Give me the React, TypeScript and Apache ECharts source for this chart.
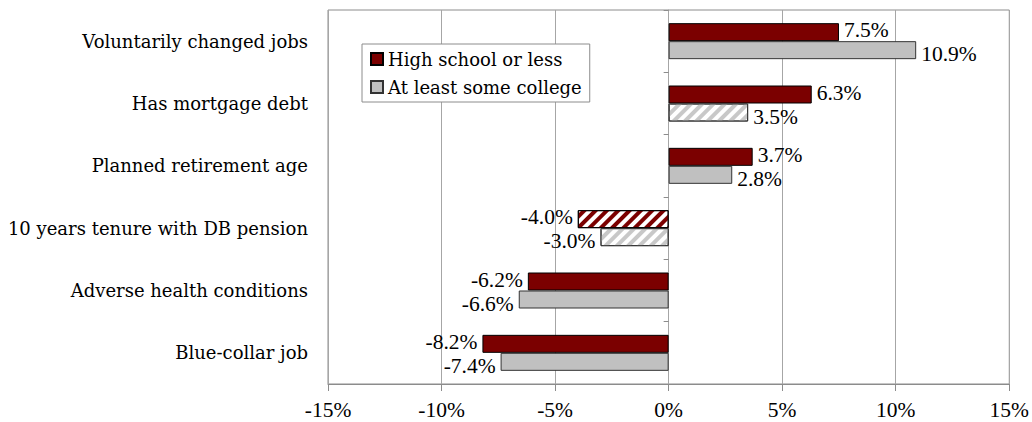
import React, { useEffect, useRef } from "react";
import * as echarts from "echarts";

const categories = [
  "Voluntarily changed jobs",
  "Has mortgage debt",
  "Planned retirement age",
  "10 years tenure with DB pension",
  "Adverse health conditions",
  "Blue-collar job",
];
const highSchool = [7.5, 6.3, 3.7, -4.0, -6.2, -8.2];
const college = [10.9, 3.5, 2.8, -3.0, -6.6, -7.4];
const hatchedHighSchool = [false, false, false, true, false, false];
const hatchedCollege = [false, true, false, true, false, false];
const xTicks = [-15, -10, -5, 0, 5, 10, 15];

const RED = "#7b0000";
const GRAY = "#c0c0c0";
const LABEL_FONT = "'DejaVu Serif', serif";
const NUM_FONT = "'Liberation Serif', 'Times New Roman', serif";

function makeData(values: number[], hatched: boolean[], stripe: string, dy: number) {
  return values.map((v, i) => {
    const label = { position: v >= 0 ? "right" : "left", offset: [0, dy] };
    return hatched[i]
      ? {
          value: v,
          label,
          itemStyle: {
            color: "#ffffff",
            decal: {
              symbol: "rect",
              symbolSize: 1,
              dashArrayX: [1, 0],
              dashArrayY: [4, 4],
              rotation: -Math.PI / 4,
              color: stripe,
              backgroundColor: "#ffffff",
            },
          },
        }
      : { value: v, label };
  });
}

export default function App() {
  const ref = useRef<HTMLDivElement>(null);
  useEffect(() => {
    if (!ref.current) return;
    document.body.style.margin = "0";
    const chart = echarts.init(ref.current, null, { renderer: "svg" });
    const labelCfg = {
      show: true,
      fontFamily: NUM_FONT,
      fontSize: 21.5,
      color: "#000",
      distance: 5,
      formatter: (p: any) => (p.value as number).toFixed(1) + "%",
    };
    chart.setOption({
      animation: false,
      backgroundColor: "#ffffff",
      grid: {
        left: 328,
        right: 22,
        top: 10,
        bottom: 38,
        show: true,
        borderColor: "#8c8c8c",
        borderWidth: 1,
      },
      legend: {
        orient: "vertical",
        left: 362,
        top: 44,
        itemWidth: 12,
        itemHeight: 12,
        itemGap: 10,
        padding: [6, 8, 6, 8],
        backgroundColor: "#ffffff",
        borderColor: "#8c8c8c",
        borderWidth: 1,
        textStyle: { fontFamily: LABEL_FONT, fontSize: 18, color: "#000" },
        data: [
          { name: "High school or less", icon: "rect" },
          { name: "At least some college", icon: "rect" },
        ],
      },
      xAxis: {
        type: "value",
        min: -15,
        max: 15,
        interval: 5,
        axisLine: { show: true, lineStyle: { color: "#8c8c8c" } },
        axisTick: { show: true, length: 7, lineStyle: { color: "#8c8c8c" } },
        splitLine: { show: true, lineStyle: { color: "#a6a6a6" } },
        axisLabel: {
          fontFamily: NUM_FONT,
          fontSize: 21.5,
          color: "#000",
          margin: 15,
          formatter: (v: number) => (xTicks.includes(v) ? v + "%" : ""),
        },
      },
      yAxis: [
        {
          type: "category",
          data: categories,
          inverse: true,
          axisLine: { show: false, onZero: false },
          axisTick: { show: false },
          axisLabel: {
            fontFamily: LABEL_FONT,
            fontSize: 18,
            color: "#000",
            margin: 20,
          },
        },
        {
          type: "category",
          data: categories,
          inverse: true,
          position: "left",
          axisLine: { show: true, onZero: true, lineStyle: { color: "#a6a6a6" } },
          axisTick: { show: true, length: 5, lineStyle: { color: "#8c8c8c" } },
          axisLabel: { show: false },
        },
      ],
      series: [
        {
          name: "High school or less",
          type: "bar",
          yAxisIndex: 0,
          barWidth: 18,
          barGap: "0%",
          itemStyle: { color: RED, borderColor: "#000", borderWidth: 1 },
          label: labelCfg,
          data: makeData(highSchool, hatchedHighSchool, RED, -2),
        },
        {
          name: "At least some college",
          type: "bar",
          yAxisIndex: 0,
          barWidth: 18,
          barGap: "0%",
          itemStyle: { color: GRAY, borderColor: "#333", borderWidth: 1 },
          label: labelCfg,
          data: makeData(college, hatchedCollege, "#c8c8c8", 4),
        },
      ],
    });
    return () => chart.dispose();
  }, []);
  return <div ref={ref} style={{ width: 1032, height: 422 }} />;
}
